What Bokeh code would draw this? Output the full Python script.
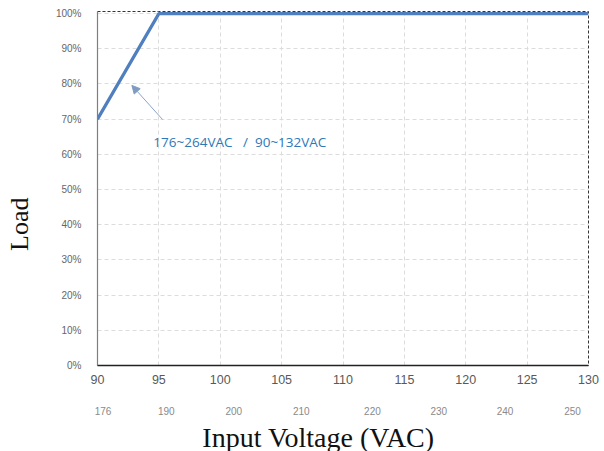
from bokeh.plotting import figure
from bokeh.models import (Range1d, LinearAxis, FixedTicker, CustomJSTickFormatter,
                          Label, Arrow, NormalHead)
from bokeh.embed import file_html
from bokeh.resources import INLINE

# ---- data ----
volt_x = [90, 95, 130]
load_y = [70, 100, 100]
x_ticks = [90, 95, 100, 105, 110, 115, 120, 125, 130]
y_ticks = [0, 10, 20, 30, 40, 50, 60, 70, 80, 90, 100]
y_labels = ["0%", "10%", "20%", "30%", "40%", "50%", "60%", "70%", "80%", "90%", "100%"]
sec_labels = ["176", "190", "200", "210", "220", "230", "240", "250"]
sec_pos = [90.45, 95.6, 101.1, 106.6, 112.4, 117.8, 123.2, 128.7]
note_text = "176~264VAC\u00a0\u00a0\u00a0/\u00a0\u00a090~132VAC"
x_title = "Input Voltage (VAC)"
y_title = "Load"

NBSP = "\u00a0"

p = figure(frame_width=491, frame_height=354, output_backend="svg", toolbar_location=None,
           x_range=Range1d(90, 130), y_range=Range1d(0, 100.6),
           min_border_left=97, min_border_right=12, min_border_top=11, min_border_bottom=80)

p.outline_line_color = "#333333"
p.outline_line_dash = "3 2"
p.outline_line_width = 1

# grid
p.xgrid.ticker = FixedTicker(ticks=x_ticks)
p.ygrid.ticker = FixedTicker(ticks=y_ticks)
for g in (p.xgrid, p.ygrid):
    g.grid_line_color = "#dcdcdc"
    g.grid_line_dash = "4 3"
    g.grid_line_width = 1

# primary x axis
xa = p.xaxis[0]
xa.ticker = FixedTicker(ticks=x_ticks)
xa.major_tick_line_color = None
xa.minor_tick_line_color = None
xa.axis_line_color = "#222222"
xa.axis_line_width = 1.5
xa.major_label_text_font = "Liberation Sans"
xa.major_label_text_font_size = "12.5px"
xa.major_label_text_color = "#595959"
xa.major_label_standoff = 3

# secondary x axis (high-line voltage) with the axis title
fmt = CustomJSTickFormatter(args=dict(pos=sec_pos, lab=sec_labels),
                            code="const i = pos.indexOf(tick); return i >= 0 ? lab[i] : '';")
xa2 = LinearAxis(ticker=FixedTicker(ticks=sec_pos), formatter=fmt)
xa2.axis_line_color = None
xa2.major_tick_line_color = None
xa2.minor_tick_line_color = None
xa2.major_label_text_font = "Liberation Sans"
xa2.major_label_text_font_size = "10px"
xa2.major_label_text_color = "#8a8a8a"
xa2.major_label_standoff = 14
xa2.axis_label = x_title + NBSP * 7
xa2.axis_label_text_font = "Liberation Serif"
xa2.axis_label_text_font_style = "normal"
xa2.axis_label_text_font_size = "28px"
xa2.axis_label_text_color = "#111111"
xa2.axis_label_standoff = 4
p.add_layout(xa2, "below")

# y axis
ya = p.yaxis[0]
ya.ticker = FixedTicker(ticks=y_ticks)
ya.major_label_overrides = {t: l for t, l in zip(y_ticks, y_labels)}
ya.major_tick_line_color = None
ya.minor_tick_line_color = None
ya.axis_line_color = "#7f7f7f"
ya.axis_line_width = 1.2
ya.major_label_text_font = "Liberation Sans"
ya.major_label_text_font_size = "10px"
ya.major_label_text_color = "#666666"
ya.major_label_standoff = 10
ya.axis_label = y_title + NBSP * 11
ya.axis_label_text_font = "Liberation Serif"
ya.axis_label_text_font_style = "normal"
ya.axis_label_text_font_size = "26px"
ya.axis_label_text_color = "#111111"
ya.axis_label_standoff = 19

# derating curve
p.line(volt_x, load_y, line_color="#4F7FBF", line_width=3.2)

# annotation
p.add_layout(Arrow(end=NormalHead(size=8, fill_color="#7f9cc0", line_color="#7f9cc0"),
                   x_start=95.3, y_start=69.9, x_end=92.8, y_end=79.6,
                   line_color="#8aa4c6", line_width=1))
p.add_layout(Label(x=94.55, y=63.6, text=note_text, text_baseline="middle",
                   text_font="Open Sans", text_font_size="13.5px", text_color="#2E78B8"))

open("out.html", "w").write(file_html(p, INLINE))
